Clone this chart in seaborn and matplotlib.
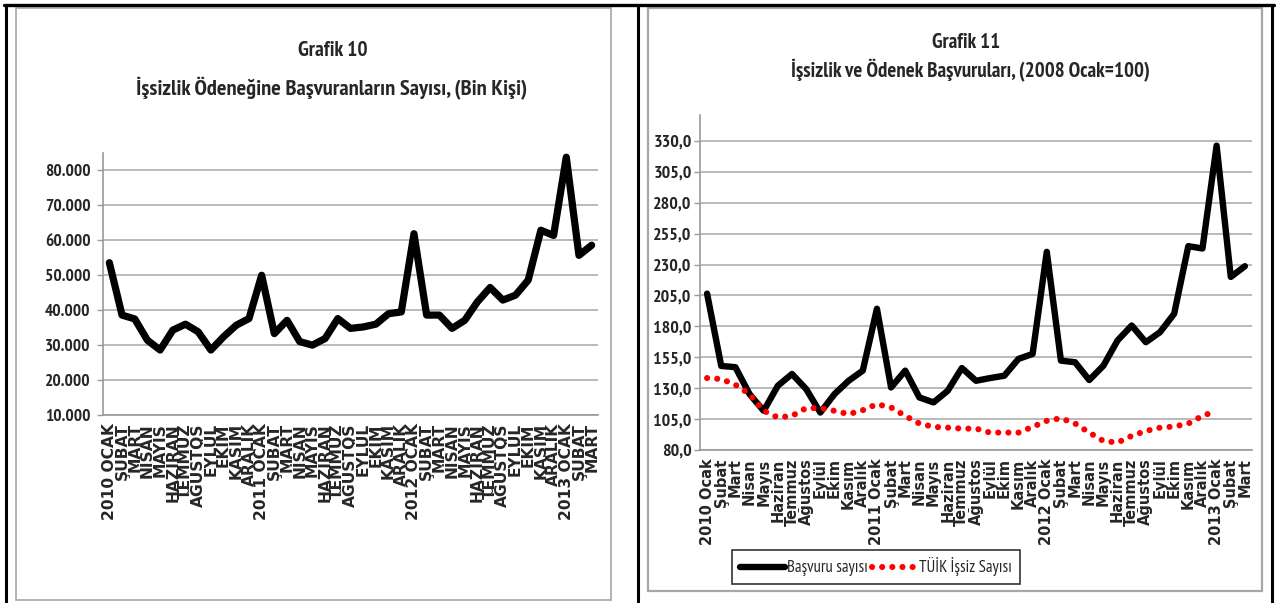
import matplotlib
matplotlib.use("Agg")
import matplotlib.pyplot as plt
import seaborn as sns
import numpy as np
from matplotlib.lines import Line2D
from matplotlib.patches import Rectangle
from matplotlib.ticker import FuncFormatter

# --- data ---
years = ["2010", "2011", "2012", "2013"]
months_upper = ["OCAK", "ŞUBAT", "MART", "NİSAN", "MAYIS", "HAZİRAN", "TEMMUZ",
                "AĞUSTOS", "EYLÜL", "EKİM", "KASIM", "ARALIK"]
months_lower = ["Ocak", "Şubat", "Mart", "Nisan", "Mayıs", "Haziran", "Temmuz",
                "Ağustos", "Eylül", "Ekim", "Kasım", "Aralık"]

# Grafik 10: number of applicants (people)
basvuran_bin = [53600, 38600, 37500, 31400, 28600, 34300, 36000, 33800, 28600, 32400,
                35700, 37600, 50000, 33300, 37100, 31000, 30000, 31900, 37600, 34800,
                35200, 36000, 39000, 39500, 61900, 38600, 38600, 34800, 37100, 42400,
                46500, 42900, 44300, 48600, 62900, 61400, 83800, 55700, 58600]

# Grafik 11: index, 2008 Ocak = 100
basvuru_sayisi = [206.5, 148.0, 147.0, 125.2, 111.7, 132.0, 141.5, 129.3, 110.3, 125.2,
                  136.0, 144.2, 194.3, 130.6, 144.2, 122.5, 118.5, 127.9, 146.3, 136.0,
                  138.2, 140.1, 153.7, 157.7, 240.3, 152.3, 151.0, 136.6, 148.2, 168.6,
                  180.7, 167.2, 175.3, 190.2, 244.9, 243.0, 326.2, 220.0, 228.7]
tuik_issiz = [138.2, 137.4, 132.8, 125.2, 111.7, 106.3, 107.6, 113.9, 113.9, 111.7,
              109.0, 112.2, 117.1, 114.4, 107.6, 101.4, 98.7, 98.1, 97.3, 97.3,
              94.1, 94.1, 94.1, 98.7, 103.6, 105.7, 101.4, 94.1, 87.3, 86.0,
              91.4, 95.4, 98.1, 99.0, 101.4, 107.6, 111.7]

labels_left = []
labels_right = []
for y in years:
    for k in range(12):
        if len(labels_left) >= len(basvuran_bin):
            break
        labels_left.append(f"{y} {months_upper[k]}" if k == 0 else months_upper[k])
        labels_right.append(f"{y} {months_lower[k]}" if k == 0 else months_lower[k])

sns.set_style("white")
narrow = ["PT Sans Narrow", "DejaVu Sans"]
plt.rcParams["font.family"] = narrow

W, H = 1276, 603
fig = plt.figure(figsize=(W / 100, H / 100), dpi=100)


def fx(px):
    return px / W


def fy(py):
    return 1 - py / H


# panel frames
for x0, y0, x1, y1, lw in [(16, 8, 611, 600, 1.2), (648, 8, 1262, 591, 1.6)]:
    fig.add_artist(Rectangle((fx(x0), fy(y1)), fx(x1) - fx(x0), fy(y0) - fy(y1),
                             transform=fig.transFigure, fill=False,
                             edgecolor="#a6a6a6", linewidth=lw))
fig.add_artist(Line2D([fx(4), fx(1274)], [fy(5), fy(5)], transform=fig.transFigure,
                      color="black", linewidth=2.4))
for xv in [6, 638, 1272]:
    fig.add_artist(Line2D([fx(xv), fx(xv)], [fy(5), 0], transform=fig.transFigure,
                          color="black", linewidth=2.2))

grid_c = "#b4b4b4"
axis_c = "#9a9a9a"


def style_axis(ax, n, labels, xsize, ysize, ypad):
    ax.set_xlim(-0.5, n - 0.5)
    ax.set_xticks(np.arange(n))
    ax.set_xticks(np.arange(n + 1) - 0.5, minor=True)
    ax.set_xticklabels(labels)
    ax.tick_params(axis="x", which="major", length=0, pad=6)
    ax.tick_params(axis="x", which="minor", length=5, color=axis_c, width=1)
    ax.tick_params(axis="y", length=4, color=axis_c, width=1, pad=ypad, left=True)
    ax.yaxis.grid(True, color=grid_c, linewidth=1.3)
    ax.xaxis.grid(False)
    for s in ["top", "right"]:
        ax.spines[s].set_visible(False)
    for s in ["left", "bottom"]:
        ax.spines[s].set_color(axis_c)
        ax.spines[s].set_linewidth(1.2)
    ax.set_xlabel("")
    ax.set_ylabel("")
    ax.set_facecolor("white")
    for t in ax.get_xticklabels():
        t.set_fontfamily(["DejaVu Sans"])
        t.set_fontweight("bold")
        t.set_fontsize(xsize)
        t.set_rotation(90)
        t.set_va("top")
    for t in ax.get_yticklabels():
        t.set_fontsize(ysize)
        t.set_fontweight("bold")


# --- Grafik 10 ---
ax1 = fig.add_axes([fx(103), fy(415), fx(598) - fx(103), fy(153) - fy(415)])
sns.lineplot(x=np.arange(len(basvuran_bin)), y=basvuran_bin, ax=ax1, color="black",
             linewidth=5.2, solid_joinstyle="round", solid_capstyle="round")
ax1.set_ylim(10000, 85000)
ax1.set_yticks(np.arange(10000, 80001, 10000))
ax1.yaxis.set_major_formatter(FuncFormatter(lambda v, p: f"{int(v):,}".replace(",", ".")))
style_axis(ax1, len(basvuran_bin), labels_left, 11.2, 12.5, 5)
fig.text(fx(333), fy(50), "Grafik 10", ha="center", va="center", fontsize=15.5,
         fontweight="bold")
fig.text(fx(332), fy(88), "İşsizlik Ödeneğine Başvuranların Sayısı, (Bin Kişi)",
         ha="center", va="center", fontsize=16.2, fontweight="bold")

# --- Grafik 11 ---
ax2 = fig.add_axes([fx(700), fy(450), fx(1252) - fx(700), fy(115) - fy(450)])
sns.lineplot(x=np.arange(len(basvuru_sayisi)), y=basvuru_sayisi, ax=ax2, color="black",
             linewidth=4.6, solid_joinstyle="round", solid_capstyle="round",
             label="Başvuru sayısı")
sns.lineplot(x=np.arange(len(tuik_issiz)), y=tuik_issiz, ax=ax2, color="#ff0000",
             linewidth=4.4, linestyle=(0, (0.01, 1.65)), dash_capstyle="round",
             label="TÜİK İşsiz Sayısı")
ax2.set_ylim(80, 351)
ax2.set_yticks(np.arange(80, 331, 25))
ax2.yaxis.set_major_formatter(FuncFormatter(lambda v, p: f"{v:.1f}".replace(".", ",")))
style_axis(ax2, len(basvuru_sayisi), labels_right, 10.5, 13, 2)
fig.text(fx(966), fy(42), "Grafik 11", ha="center", va="center", fontsize=15,
         fontweight="bold")
fig.text(fx(970), fy(71), "İşsizlik ve Ödenek Başvuruları, (2008 Ocak=100)",
         ha="center", va="center", fontsize=15, fontweight="bold")

leg = ax2.legend(loc="center", bbox_to_anchor=(fx(876), fy(567)),
                 bbox_transform=fig.transFigure, ncol=2, frameon=True, fancybox=False,
                 fontsize=12, handlelength=2.7, handletextpad=0.15,
                 columnspacing=0.2, borderpad=0.45, borderaxespad=0)
leg.get_frame().set_edgecolor("black")
leg.get_frame().set_linewidth(1.2)

fig.savefig("out.png", dpi=100, facecolor="white")
